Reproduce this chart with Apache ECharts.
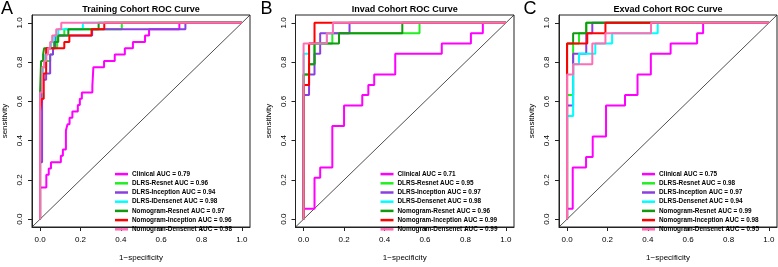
<!DOCTYPE html>
<html><head><meta charset="utf-8">
<script src="https://cdn.jsdelivr.net/npm/echarts@6/dist/echarts.min.js"></script>
<style>html,body{margin:0;padding:0;background:#fff}#c{width:778px;height:267px}</style>
</head><body><div id="c"></div>
<script>
// ---------- data ----------
const panelTitles = ['Training Cohort ROC Curve', 'Invad Cohort ROC Curve', 'Exvad Cohort ROC Curve'];
const panelLetters = ['A', 'B', 'C'];
const tickValues = [0, 0.2, 0.4, 0.6, 0.8, 1.0];
const tickLabels = ['0.0', '0.2', '0.4', '0.6', '0.8', '1.0'];
const xAxisTitle = '1\u2212specificity';
const yAxisTitle = 'sensitivity';
const diagonalLine = [[-0.04, -0.04], [1.04, 1.04]];

const legendA = ['Clinical AUC = 0.79', 'DLRS-Resnet AUC = 0.96', 'DLRS-Inception AUC = 0.94', 'DLRS-IDensenet AUC = 0.98', 'Nomogram-Resnet AUC = 0.97', 'Nomogram-Inception AUC = 0.96', 'Nomogram-Densenet AUC = 0.98'];
const legendB = ['Clinical AUC = 0.71', 'DLRS-Resnet AUC = 0.95', 'DLRS-Inception AUC = 0.97', 'DLRS-Densenet AUC = 0.98', 'Nomogram-Resnet AUC = 0.96', 'Nomogram-Inception AUC = 0.99', 'Nomogram-Densenet AUC = 0.99'];
const legendC = ['Clinical AUC = 0.75', 'DLRS-Resnet AUC = 0.98', 'DLRS-Inception AUC = 0.97', 'DLRS-Densenet AUC = 0.94', 'Nomogram-Resnet AUC = 0.99', 'Nomogram-Inception AUC = 0.98', 'Nomogram-Densenet AUC = 0.95'];

// Panel A (training): [1-specificity, sensitivity]
const trainClinical = [[0,0],[0,0.161],[0.031,0.161],[0.031,0.226],[0.043,0.226],[0.043,0.258],[0.054,0.258],[0.054,0.290],[0.103,0.290],[0.103,0.323],[0.113,0.323],[0.113,0.355],[0.128,0.355],[0.128,0.452],[0.136,0.452],[0.136,0.484],[0.146,0.484],[0.146,0.516],[0.160,0.516],[0.160,0.548],[0.187,0.548],[0.187,0.581],[0.197,0.581],[0.197,0.613],[0.207,0.613],[0.207,0.645],[0.259,0.645],[0.259,0.677],[0.264,0.677],[0.264,0.774],[0.317,0.774],[0.317,0.806],[0.370,0.806],[0.370,0.839],[0.420,0.839],[0.420,0.871],[0.460,0.871],[0.460,0.903],[0.520,0.903],[0.520,0.935],[0.540,0.935],[0.540,0.968],[0.690,0.968],[0.690,1],[1,1]];
const trainResnet = [[0,0],[0,0.645],[0.010,0.645],[0.010,0.774],[0.030,0.774],[0.030,0.806],[0.050,0.806],[0.050,0.839],[0.064,0.839],[0.064,0.871],[0.085,0.871],[0.085,0.935],[0.120,0.935],[0.120,0.968],[0.405,0.968],[0.405,1],[1,1]];
const trainInception = [[0,0],[0,0.290],[0.010,0.290],[0.010,0.710],[0.030,0.710],[0.030,0.742],[0.050,0.742],[0.050,0.839],[0.064,0.839],[0.064,0.871],[0.075,0.871],[0.075,0.935],[0.258,0.935],[0.258,0.968],[0.720,0.968],[0.720,1],[1,1]];
const trainDensenet = [[0,0],[0,0.613],[0.015,0.613],[0.015,0.774],[0.025,0.774],[0.025,0.839],[0.035,0.839],[0.035,0.871],[0.055,0.871],[0.055,0.903],[0.070,0.903],[0.070,0.935],[0.090,0.935],[0.090,0.968],[0.212,0.968],[0.212,1],[1,1]];
const trainNomResnet = [[0,0],[0,0.645],[0.005,0.645],[0.005,0.806],[0.015,0.806],[0.015,0.839],[0.020,0.839],[0.020,0.871],[0.070,0.871],[0.070,0.903],[0.090,0.903],[0.090,0.935],[0.140,0.935],[0.140,0.968],[0.290,0.968],[0.290,1],[1,1]];
const trainNomInception = [[0,0],[0,0.548],[0.008,0.548],[0.008,0.613],[0.018,0.613],[0.018,0.742],[0.030,0.742],[0.030,0.871],[0.120,0.871],[0.120,0.903],[0.145,0.903],[0.145,0.935],[0.255,0.935],[0.255,0.968],[0.318,0.968],[0.318,1],[1,1]];
const trainNomDensenet = [[0,0],[0,0.645],[0.010,0.645],[0.010,0.774],[0.020,0.774],[0.020,0.806],[0.030,0.806],[0.030,0.839],[0.040,0.839],[0.040,0.871],[0.050,0.871],[0.050,0.903],[0.060,0.903],[0.060,0.935],[0.080,0.935],[0.080,0.968],[0.105,0.968],[0.105,1],[1,1]];

// Panel B (internal validation)
const invadClinical = [[0,0],[0,0.053],[0.054,0.053],[0.054,0.211],[0.082,0.211],[0.082,0.263],[0.142,0.263],[0.142,0.474],[0.200,0.474],[0.200,0.579],[0.290,0.579],[0.290,0.632],[0.320,0.632],[0.320,0.684],[0.349,0.684],[0.349,0.737],[0.453,0.737],[0.453,0.842],[0.683,0.842],[0.683,0.895],[0.827,0.895],[0.827,0.947],[0.886,0.947],[0.886,1],[1,1]];
const invadResnet = [[0,0],[0,0.737],[0.027,0.737],[0.027,0.789],[0.054,0.789],[0.054,0.895],[0.142,0.895],[0.142,0.947],[0.573,0.947],[0.573,1],[1,1]];
const invadInception = [[0,0],[0,0.632],[0.027,0.632],[0.027,0.737],[0.054,0.737],[0.054,0.842],[0.082,0.842],[0.082,0.947],[0.227,0.947],[0.227,1],[1,1]];
const invadDensenet = [[0,0],[0,0.842],[0.027,0.842],[0.027,0.895],[0.115,0.895],[0.115,0.947],[0.145,0.947],[0.145,1],[1,1]];
const invadNomResnet = [[0,0],[0,0.737],[0.027,0.737],[0.027,0.789],[0.054,0.789],[0.054,0.895],[0.175,0.895],[0.175,0.947],[0.488,0.947],[0.488,1],[1,1]];
const invadNomInception = [[0,0],[0,0.684],[0.027,0.684],[0.027,0.895],[0.054,0.895],[0.054,1],[1,1]];
const invadNomDensenet = [[0,0],[0,0.895],[0.115,0.895],[0.115,0.947],[0.145,0.947],[0.145,1],[1,1]];

// Panel C (external validation)
const exvadClinical = [[0,0],[0,0.053],[0.028,0.053],[0.028,0.263],[0.094,0.263],[0.094,0.316],[0.127,0.316],[0.127,0.421],[0.193,0.421],[0.193,0.579],[0.287,0.579],[0.287,0.632],[0.349,0.632],[0.349,0.737],[0.415,0.737],[0.415,0.842],[0.513,0.842],[0.513,0.895],[0.644,0.895],[0.644,0.947],[0.674,0.947],[0.674,1],[1,1]];
const exvadResnet = [[0,0],[0,0.632],[0.030,0.632],[0.030,0.895],[0.059,0.895],[0.059,0.947],[0.095,0.947],[0.095,1],[1,1]];
const exvadInception = [[0,0],[0,0.579],[0.030,0.579],[0.030,0.842],[0.095,0.842],[0.095,0.947],[0.125,0.947],[0.125,1],[1,1]];
const exvadDensenet = [[0,0],[0,0.526],[0.030,0.526],[0.030,0.789],[0.059,0.789],[0.059,0.842],[0.140,0.842],[0.140,0.895],[0.223,0.895],[0.223,0.947],[0.449,0.947],[0.449,1],[1,1]];
const exvadNomResnet = [[0,0],[0,0.895],[0.030,0.895],[0.030,0.947],[0.095,0.947],[0.095,1],[1,1]];
const exvadNomInception = [[0,0],[0,0.895],[0.100,0.895],[0.100,0.947],[0.190,0.947],[0.190,1],[1,1]];
const exvadNomDensenet = [[0,0],[0,0.737],[0.030,0.737],[0.030,0.789],[0.125,0.789],[0.125,0.895],[0.190,0.895],[0.190,0.947],[0.416,0.947],[0.416,1],[1,1]];

// ---------- styling ----------
const curveColors = ['#ff00ff', '#22ee22', '#8a3fe0', '#00ffff', '#119911', '#ff0000', '#ff6eb4'];
const FONT = 'Liberation Sans, Arial, Helvetica, sans-serif';
const grids = [
  { left: 32, top: 15, width: 218, height: 220 },
  { left: 295.5, top: 15, width: 218.5, height: 220 },
  { left: 559, top: 15, width: 218, height: 220 }
];
const panelData = [
  [trainClinical, trainResnet, trainInception, trainDensenet, trainNomResnet, trainNomInception, trainNomDensenet],
  [invadClinical, invadResnet, invadInception, invadDensenet, invadNomResnet, invadNomInception, invadNomDensenet],
  [exvadClinical, exvadResnet, exvadInception, exvadDensenet, exvadNomResnet, exvadNomInception, exvadNomDensenet]
];
const panelLegends = [legendA, legendB, legendC];
const legendLeft = [115, 380.5, 642];

const fmt = v => { const i = tickValues.findIndex(t => Math.abs(t - v) < 1e-9); return i >= 0 ? tickLabels[i] : ''; };

const option = {
  animation: false,
  backgroundColor: '#fff',
  textStyle: { fontFamily: FONT },
  grid: grids.map(g => Object.assign({ show: true, borderColor: '#222', borderWidth: 1, containLabel: false }, g)),
  xAxis: grids.map((g, i) => ({
    gridIndex: i, type: 'value', min: -0.04, max: 1.04,
    axisLine: { show: true, onZero: false, lineStyle: { color: '#222', width: 1 } },
    axisTick: { show: true, inside: false, length: 4, customValues: tickValues, lineStyle: { color: '#222' } },
    axisLabel: { show: true, customValues: tickValues, formatter: fmt, fontSize: 8, color: '#000', margin: 9, fontFamily: FONT },
    splitLine: { show: false },
    name: xAxisTitle, nameLocation: 'middle', nameGap: 27,
    nameTextStyle: { fontSize: 8, color: '#000', fontFamily: FONT }
  })),
  yAxis: grids.map((g, i) => ({
    gridIndex: i, type: 'value', min: -0.04, max: 1.04,
    axisLine: { show: true, onZero: false, lineStyle: { color: '#222', width: 1 } },
    axisTick: { show: true, inside: false, length: 4, customValues: tickValues, lineStyle: { color: '#222' } },
    axisLabel: { show: true, customValues: tickValues, formatter: fmt, fontSize: 8, color: '#000', margin: 8, rotate: 90, fontFamily: FONT },
    splitLine: { show: false },
    name: yAxisTitle, nameLocation: 'middle', nameGap: 23, nameRotate: 90,
    nameTextStyle: { fontSize: 8, color: '#000', fontFamily: FONT }
  })),
  legend: panelLegends.map((names, i) => ({
    data: names, orient: 'vertical', left: legendLeft[i], top: 169.5,
    icon: 'rect', itemWidth: 13, itemHeight: 2.5, itemGap: 0, padding: 0,
    selectedMode: false,
    textStyle: { fontSize: 6.4, fontWeight: 'bold', lineHeight: 9.2, color: '#000', fontFamily: FONT, padding: [0, 0, 0, -1] }
  })),
  graphic: [].concat(
    grids.map((g, i) => ({
      type: 'text', x: g.left + g.width / 2, y: 5,
      style: { text: panelTitles[i], font: 'bold 9px ' + FONT, fill: '#000', textAlign: 'center', textVerticalAlign: 'top' }
    })),
    grids.map((g, i) => ({
      type: 'text', x: [1, 260.5, 523.5][i], y: 0,
      style: { text: panelLetters[i], font: '18px ' + FONT, fill: '#000', textAlign: 'left', textVerticalAlign: 'top' }
    }))
  ),
  series: []
};

panelData.forEach((curves, p) => {
  option.series.push({
    type: 'line', xAxisIndex: p, yAxisIndex: p, data: diagonalLine, showSymbol: false, symbol: 'none',
    lineStyle: { color: '#222', width: 0.8 }, silent: true, z: 1
  });
  curves.forEach((d, k) => {
    option.series.push({
      name: panelLegends[p][k], type: 'line', xAxisIndex: p, yAxisIndex: p,
      data: d, symbol: 'none', showSymbol: false, color: curveColors[k],
      lineStyle: { color: curveColors[k], width: 2 }, z: 2 + k
    });
  });
});

const chart = echarts.init(document.getElementById('c'), null, { renderer: 'canvas' });
chart.setOption(option);
</script>
</body></html>
